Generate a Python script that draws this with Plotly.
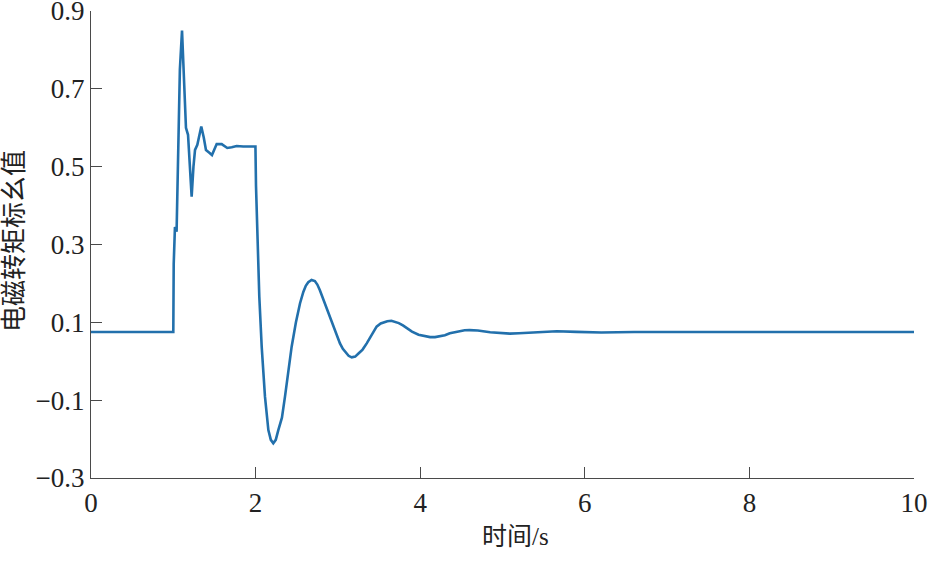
import plotly.graph_objects as go

t = [0.0, 1.0, 1.005, 1.02, 1.04, 1.06, 1.08, 1.106, 1.13, 1.154, 1.179, 1.20, 1.223, 1.245,
     1.264, 1.292, 1.34, 1.37, 1.397, 1.438, 1.47, 1.50, 1.527, 1.588, 1.656, 1.71, 1.77, 1.85,
     1.93, 1.998, 2.005, 2.02, 2.045, 2.074, 2.114, 2.155, 2.185, 2.215, 2.245, 2.276, 2.32,
     2.357, 2.40, 2.438, 2.49, 2.54, 2.58, 2.61, 2.64, 2.68, 2.72, 2.75, 2.78, 2.84, 2.90,
     2.96, 3.025, 3.06, 3.10, 3.13, 3.168, 3.21, 3.25, 3.30, 3.35, 3.41, 3.47, 3.52, 3.56,
     3.60, 3.65, 3.70, 3.74, 3.79, 3.84, 3.90, 3.98, 4.05, 4.12, 4.18, 4.24, 4.30, 4.36, 4.42,
     4.48, 4.54, 4.60, 4.70, 4.85, 4.97, 5.09, 5.20, 5.30, 5.46, 5.66, 5.9, 6.2, 6.6, 7.0,
     8.0, 9.0, 10.0]
torque = [0.075, 0.075, 0.25, 0.345, 0.333, 0.55, 0.75, 0.85, 0.72, 0.60, 0.582, 0.50, 0.423,
          0.50, 0.543, 0.556, 0.603, 0.575, 0.543, 0.536, 0.530, 0.545, 0.558, 0.558, 0.548,
          0.550, 0.553, 0.552, 0.551, 0.552, 0.45, 0.338, 0.166, 0.0375, -0.091, -0.177,
          -0.202, -0.211, -0.202, -0.177, -0.145, -0.091, -0.025, 0.0375, 0.100, 0.149, 0.178,
          0.194, 0.203, 0.209, 0.206, 0.197, 0.183, 0.150, 0.115, 0.080, 0.046, 0.032, 0.021,
          0.014, 0.010, 0.012, 0.020, 0.030, 0.046, 0.068, 0.089, 0.097, 0.101, 0.103, 0.104,
          0.101, 0.098, 0.092, 0.085, 0.076, 0.068, 0.064, 0.062, 0.062, 0.064, 0.067, 0.072,
          0.075, 0.078, 0.0795, 0.080, 0.079, 0.0745, 0.072, 0.071, 0.072, 0.073, 0.076,
          0.077, 0.0755, 0.074, 0.075, 0.075, 0.075, 0.075, 0.075]

x_ticks = [0, 2, 4, 6, 8, 10]
y_ticks = [-0.3, -0.1, 0.1, 0.3, 0.5, 0.7, 0.9]
y_tick_labels = ["\u22120.3", "\u22120.1", "0.1", "0.3", "0.5", "0.7", "0.9"]

x_title = "时间/s"
y_title = "电磁转矩标幺值"

font_family = "Liberation Serif, Noto Sans CJK SC, serif"
axis_color = "#4a4a4a"

fig = go.Figure()
fig.add_trace(go.Scatter(x=t, y=torque, mode="lines",
                         line=dict(color="#2270AC", width=2.6), showlegend=False))

fig.update_layout(
    width=929, height=577,
    margin=dict(l=91, r=15, t=11, b=99),
    paper_bgcolor="white", plot_bgcolor="white",
    font=dict(family=font_family, size=27, color="#222222"),
)
fig.update_xaxes(range=[0, 10], tickvals=x_ticks, ticktext=[str(v) for v in x_ticks],
                 automargin=False, ticklabeloverflow="allow",
                 showgrid=False, zeroline=False, showline=True, linecolor=axis_color,
                 linewidth=1.3, ticks="inside", ticklen=11, tickcolor=axis_color,
                 tickwidth=1.2, tickfont=dict(family=font_family, size=27, color="#222222"))
fig.update_yaxes(range=[-0.3, 0.9], tickvals=y_ticks, ticktext=y_tick_labels,
                 automargin=False, ticklabeloverflow="allow",
                 showgrid=False, zeroline=False, showline=True, linecolor=axis_color,
                 linewidth=1.3, ticks="inside", ticklen=11, tickcolor=axis_color,
                 tickwidth=1.2, tickfont=dict(family=font_family, size=27, color="#222222"))

fig.add_annotation(text=x_title, xref="paper", yref="paper",
                   x=(515 - 91) / (914 - 91), y=-(536 - 478) / (478 - 11),
                   showarrow=False, xanchor="center", yanchor="middle",
                   font=dict(family=font_family, size=25, color="#222222"))
fig.add_annotation(text=y_title, xref="paper", yref="paper",
                   x=-(91 - 14) / (914 - 91), y=(478 - 241) / (478 - 11),
                   showarrow=False, xanchor="center", yanchor="middle", textangle=-90,
                   font=dict(family=font_family, size=26, color="#222222"))

fig.write_html("out.html", config={"displayModeBar": False},
               post_script="document.body.style.margin='0';document.body.style.overflow='hidden';")
